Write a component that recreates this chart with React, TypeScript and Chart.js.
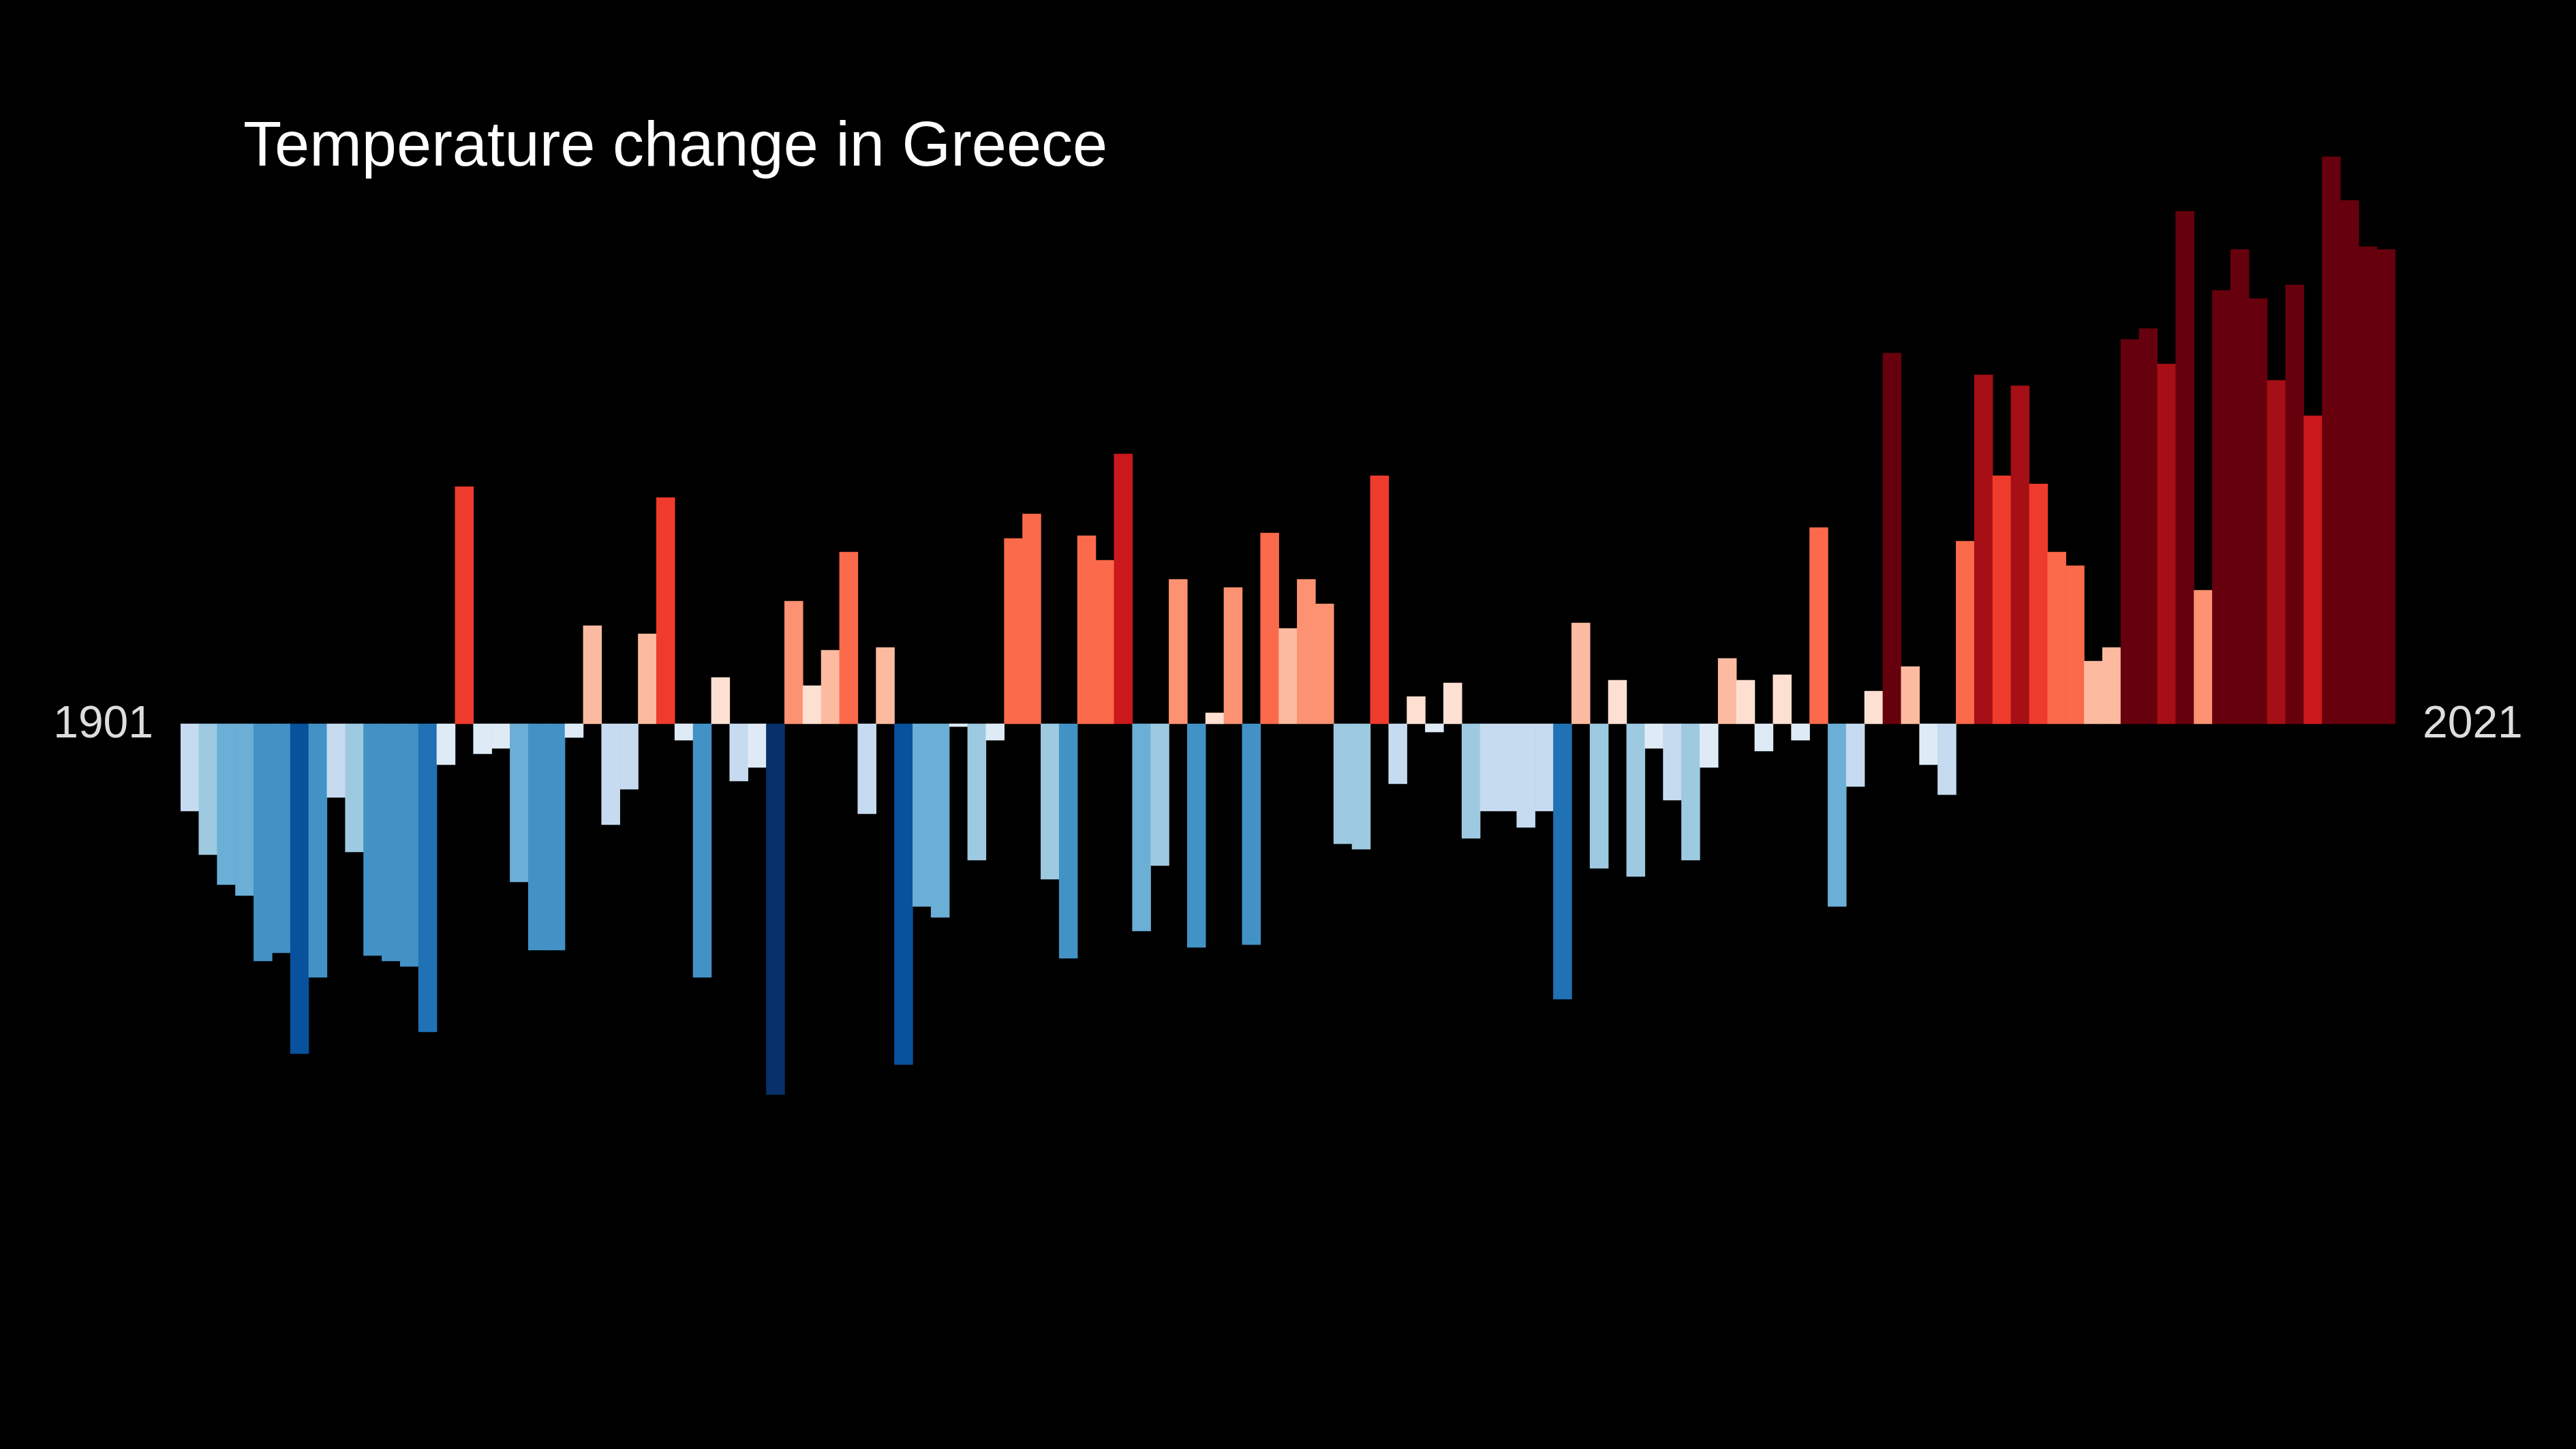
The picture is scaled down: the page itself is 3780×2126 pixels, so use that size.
import React, { useEffect, useRef } from 'react';
import { Chart, registerables } from 'chart.js';

Chart.register(...registerables);

const firstYear = 1901;
const lastYear = 2021;
const titleText = 'Temperature change in Greece';

// anomaly in °C, 1901..2021
const anomalies = [
  -0.32, -0.48, -0.59, -0.63, -0.87, -0.84, -1.21, -0.93, -0.27, -0.47,
  -0.85, -0.87, -0.89, -1.13, -0.15, 0.87, -0.11, -0.09, -0.58, -0.83,
  -0.83, -0.05, 0.36, -0.37, -0.24, 0.33, 0.83, -0.06, -0.93, 0.17,
  -0.21, -0.16, -1.36, 0.45, 0.14, 0.27, 0.63, -0.33, 0.28, -1.25,
  -0.67, -0.71, -0.01, -0.5, -0.06, 0.68, 0.77, -0.57, -0.86, 0.69,
  0.6, 0.99, -0.76, -0.52, 0.53, -0.82, 0.04, 0.5, -0.81, 0.7,
  0.35, 0.53, 0.44, -0.44, -0.46, 0.91, -0.22, 0.1, -0.03, 0.15,
  -0.42, -0.32, -0.32, -0.38, -0.32, -1.01, 0.37, -0.53, 0.16, -0.56,
  -0.09, -0.28, -0.5, -0.16, 0.24, 0.16, -0.1, 0.18, -0.06, 0.72,
  -0.67, -0.23, 0.12, 1.36, 0.21, -0.15, -0.26, 0.67, 1.28, 0.91,
  1.24, 0.88, 0.63, 0.58, 0.23, 0.28, 1.41, 1.45, 1.32, 1.88,
  0.49, 1.59, 1.74, 1.56, 1.26, 1.61, 1.13, 2.08, 1.92, 1.75,
  1.74,
];

const years = anomalies.map((_, i) => String(firstYear + i));

// colour bins (upper bound, colour)
const binLimits = [-1.3, -1.15, -0.95, -0.78, -0.575, -0.4, -0.18, 0, 0.2, 0.4, 0.56, 0.8, 0.95, 1.2, 1.34];
const binColors = [
  '#08306b', '#08519c', '#2171b5', '#4292c6', '#6baed6', '#9ecae1', '#c6dbef', '#deebf7',
  '#fee0d2', '#fcbba1', '#fc9272', '#fb6a4a', '#ef3b2c', '#cb181d', '#a50f15', '#67000d',
];

const colorFor = (v: number) => {
  for (let i = 0; i < binLimits.length; i++) if (v < binLimits[i]) return binColors[i];
  return binColors[binColors.length - 1];
};

const labelsPlugin = {
  id: 'stripeLabels',
  beforeDraw(chart: any) {
    const { ctx, width, height } = chart;
    ctx.save();
    ctx.fillStyle = '#000';
    ctx.fillRect(0, 0, width, height);
    ctx.restore();
  },
  afterDraw(chart: any) {
    const { ctx, chartArea } = chart;
    const y0 = chart.scales.y.getPixelForValue(0);
    ctx.save();
    ctx.fillStyle = '#ffffff';
    ctx.font = '92px "Liberation Sans", Arial, sans-serif';
    ctx.textBaseline = 'middle';
    ctx.textAlign = 'left';
    ctx.fillText(titleText, 349, 210);
    ctx.fillStyle = '#dddddd';
    ctx.font = '66px "Liberation Sans", Arial, sans-serif';
    ctx.textAlign = 'right';
    ctx.fillText(String(firstYear), chartArea.left - 40, y0 + 2);
    ctx.textAlign = 'left';
    ctx.fillText(String(lastYear), chartArea.right + 40, y0 + 2);
    ctx.restore();
  },
};

const App = () => {
  const chartRef = useRef<HTMLCanvasElement>(null);

  useEffect(() => {
    document.body.style.background = '#000';
    if (!chartRef.current) return;
    const ctx = chartRef.current.getContext('2d');
    if (!ctx) return;

    const chart = new Chart(ctx, {
      type: 'bar',
      data: {
        labels: years,
        datasets: [
          {
            data: anomalies,
            backgroundColor: anomalies.map(colorFor),
            borderWidth: 0,
            barPercentage: 1,
            categoryPercentage: 1,
          },
        ],
      },
      options: {
        animation: false,
        responsive: true,
        maintainAspectRatio: false,
        layout: { padding: { left: 257, right: 257, top: 94, bottom: 16 } },
        plugins: { legend: { display: false }, tooltip: { enabled: false }, title: { display: false } },
        scales: {
          x: { display: false },
          y: { display: false, min: -2.6, max: 2.4 },
        },
      },
      plugins: [labelsPlugin],
    });

    return () => {
      chart.destroy();
    };
  }, []);

  return (
    <div style={{ width: 3764, height: 2110 }}>
      <canvas ref={chartRef} />
    </div>
  );
};

export default App;
